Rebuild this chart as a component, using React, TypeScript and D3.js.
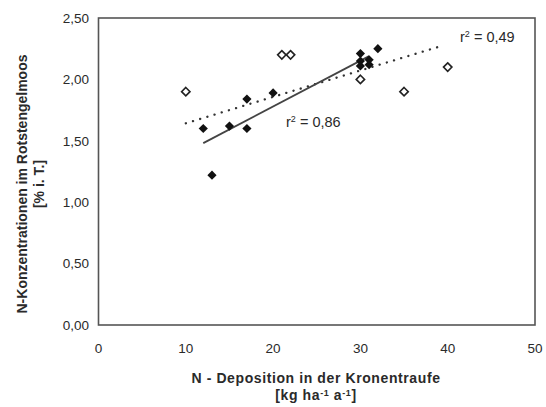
import * as d3 from "d3";

// filled diamonds (x = N deposition, y = N concentration)
const filledX = [12, 13, 15, 17, 17, 20, 30, 30, 30, 31, 31, 32];
const filledY = [1.6, 1.22, 1.62, 1.6, 1.84, 1.89, 2.21, 2.15, 2.11, 2.12, 2.16, 2.25];
// open diamonds
const openX = [10, 21, 22, 30, 35, 40];
const openY = [1.9, 2.2, 2.2, 2.0, 1.9, 2.1];

const xTicks = [0, 10, 20, 30, 40, 50];
const yTicks = [0, 0.5, 1, 1.5, 2, 2.5];

// x span of the two trend lines
const solidSpan = [12, 31];
const dottedSpan = [10, 39.5];

const width = 546;
const height = 407;
const m = { left: 98.5, right: 11, top: 18, bottom: 82 };

function fit(xs: number[], ys: number[]) {
    const mx = d3.mean(xs)!;
    const my = d3.mean(ys)!;
    let sxy = 0;
    let sxx = 0;
    xs.forEach((x, i) => {
        sxy += (x - mx) * (ys[i] - my);
        sxx += (x - mx) * (x - mx);
    });
    const b = sxy / sxx;
    return (x: number) => my + b * (x - mx);
}

const fmt = (v: number) => v.toFixed(2).replace(".", ",");

function Diamond({ cx, cy, open }: { cx: number; cy: number; open?: boolean }) {
    const r = open ? 4.2 : 4.6;
    const d = `M${cx},${cy - r}L${cx + r},${cy}L${cx},${cy + r}L${cx - r},${cy}Z`;
    return open ? (
        <path d={d} fill="#fff" stroke="#222" strokeWidth={1.6} />
    ) : (
        <path d={d} fill="#111" />
    );
}

export default function App() {
    const x = d3.scaleLinear().domain([0, 50]).range([m.left, width - m.right]);
    const y = d3.scaleLinear().domain([0, 2.5]).range([height - m.bottom, m.top]);

    const allX = [...filledX, ...openX];
    const allY = [...filledY, ...openY];
    const fFilled = fit(filledX, filledY);
    const fAll = fit(allX, allY);

    const solidPath = d3.line<number>().x((d) => x(d)).y((d) => y(fFilled(d)))(solidSpan) || "";
    const dottedPath = d3.line<number>().x((d) => x(d)).y((d) => y(fAll(d)))(dottedSpan) || "";

    const font = "'Liberation Sans', Arial, sans-serif";
    const ink = "#2a2a2a";

    return (
        <div style={{ position: "absolute", left: 0, top: 0 }}>
            <svg width={width} height={height} style={{ display: "block", fontFamily: font }}>
                <rect width={width} height={height} fill="#fff" />
                <rect
                    x={x(0)}
                    y={y(2.5)}
                    width={x(50) - x(0)}
                    height={y(0) - y(2.5)}
                    fill="none"
                    stroke="#555"
                    strokeWidth={1.6}
                />
                {yTicks.map((t) => (
                    <text key={t} x={89} y={y(t)} dy="0.35em" textAnchor="end" fontSize={13.5} fill={ink}>
                        {fmt(t)}
                    </text>
                ))}
                {xTicks.map((t) => (
                    <text key={t} x={x(t)} y={353} textAnchor="middle" fontSize={13.5} fill={ink}>
                        {t}
                    </text>
                ))}
                <path d={dottedPath} fill="none" stroke="#333" strokeWidth={2.3} strokeDasharray="0.1 7.4" strokeLinecap="round" />
                <path d={solidPath} fill="none" stroke="#444" strokeWidth={1.8} />
                {openX.map((v, i) => (
                    <Diamond key={"o" + i} cx={x(v)} cy={y(openY[i])} open />
                ))}
                {filledX.map((v, i) => (
                    <Diamond key={"f" + i} cx={x(v)} cy={y(filledY[i])} />
                ))}
                <text x={460} y={42} fontSize={14.5} fill={ink}>
                    r<tspan dy={-5.5} fontSize={9}>2</tspan>
                    <tspan dy={5.5}> = 0,49</tspan>
                </text>
                <text x={286} y={127} fontSize={14.5} fill={ink}>
                    r<tspan dy={-5.5} fontSize={9}>2</tspan>
                    <tspan dy={5.5}> = 0,86</tspan>
                </text>
                <g transform="translate(27,184) rotate(-90)" fontSize={14} fontWeight="bold" fill={ink} textAnchor="middle">
                    <text x={0} y={0}>N-Konzentrationen im Rotstengelmoos</text>
                    <text x={0} y={17}>[% i. T.]</text>
                </g>
                <g fontSize={14} fontWeight="bold" fill={ink} textAnchor="middle" letterSpacing={0.6}>
                    <text x={316} y={383}>N - Deposition in der Kronentraufe</text>
                    <text x={316} y={400}>
                        [kg ha<tspan dy={-4.5} fontSize={9}>-1</tspan>
                        <tspan dy={4.5}> a</tspan>
                        <tspan dy={-4.5} fontSize={9}>-1</tspan>
                        <tspan dy={4.5}>]</tspan>
                    </text>
                </g>
            </svg>
        </div>
    );
}
